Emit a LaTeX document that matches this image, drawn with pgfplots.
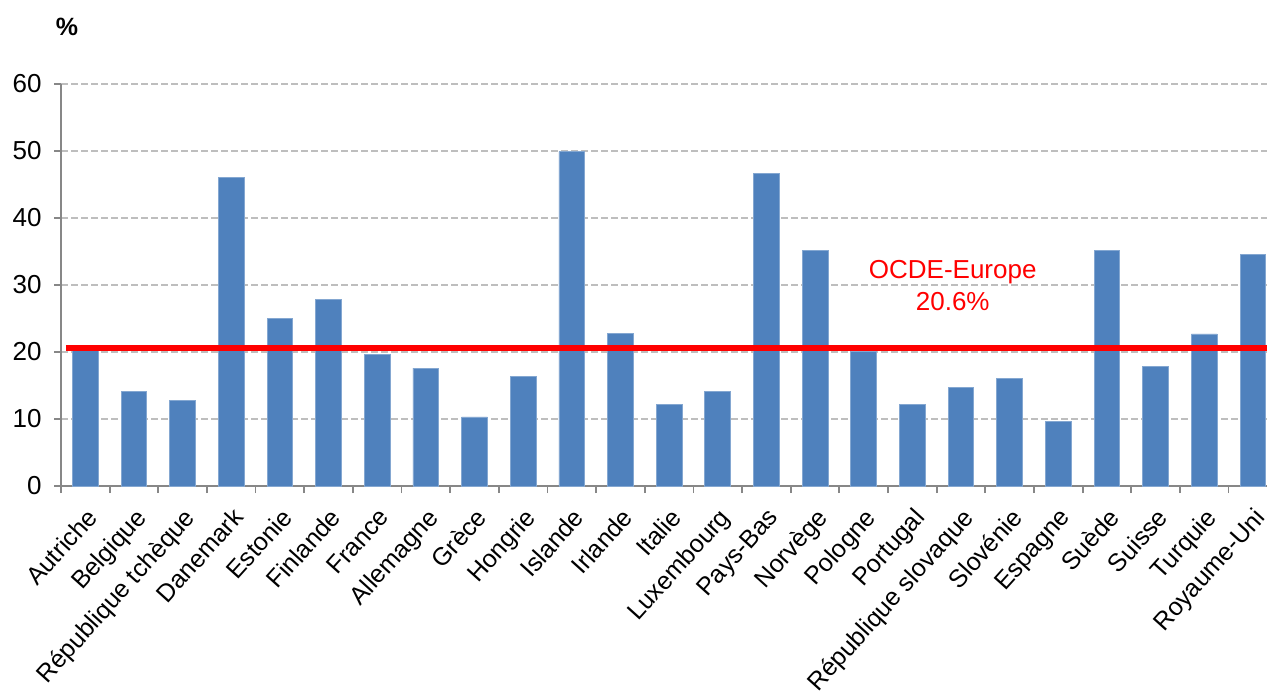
\documentclass[border=0pt]{standalone}
\usepackage{fontspec}
\setmainfont{Liberation Sans}
\usepackage{pgfplots}
\pgfplotsset{compat=1.18}
\definecolor{barblue}{HTML}{4F81BD}
\definecolor{axisgray}{HTML}{878787}
\definecolor{gridgray}{HTML}{BEBEBE}

\begin{document}
\begin{tikzpicture}
\begin{axis}[
  scale only axis,
  width=603pt, height=201pt,
  xmin=-0.5, xmax=24.29,
  ymin=0, ymax=60,
  clip=false,
  axis x line*=bottom,
  axis y line*=left,
  axis line style={axisgray, line width=0.9pt},
  tick align=outside,
  tick style={axisgray, line width=0.9pt},
  major tick length=3.5pt,
  minor tick length=3.5pt,
  xtick={0,...,24},
  major x tick style={draw=none},
  minor xtick={-0.5,0.5,...,23.5},
  xticklabels={Autriche, Belgique, République tchèque, Danemark, Estonie,
    Finlande, France, Allemagne, Grèce, Hongrie, Islande, Irlande, Italie,
    Luxembourg, Pays-Bas, Norvège, Pologne, Portugal, République slovaque,
    Slovénie, Espagne, Suède, Suisse, Turquie, Royaume-Uni},
  xticklabel style={yshift=-6.5pt, rotate=48, anchor=north east,
    inner sep=0pt, font=\fontsize{12.5}{15}\selectfont},
  ytick={0,10,...,60},
  yticklabel style={xshift=-6pt, anchor=east, inner sep=0pt,
    font=\fontsize{13}{15}\selectfont},
  /pgf/number format/assume math mode=true,
  ymajorgrids,
  grid style={gridgray, line width=0.65pt, dash pattern=on 3.5pt off 1.5pt},
]
% share of each country, per cent
\addplot[ybar, bar width=0.53, fill=barblue, draw=barblue!70!white,
  line width=0.4pt] coordinates {
  (0,20.5) (1,14.1) (2,12.8) (3,46.1) (4,25.0) (5,27.9) (6,19.7)
  (7,17.6) (8,10.3) (9,16.3) (10,49.9) (11,22.8) (12,12.2) (13,14.1)
  (14,46.7) (15,35.2) (16,20.1) (17,12.2) (18,14.7) (19,16.0) (20,9.7)
  (21,35.2) (22,17.9) (23,22.7) (24,34.5)
};
% OECD-Europe average
\addplot[red, line width=3.3pt] coordinates {(-0.4,20.6) (24.29,20.6)};
\node[red, align=center, font=\fontsize{13}{16}\selectfont]
  at (axis cs:17.83,29.85) {OCDE-Europe\\20.6\%};
\node[font=\fontsize{12.5}{15}\selectfont\bfseries]
  at (axis cs:-0.377,68.5) {\%};
\coordinate (bbSW) at (axis cs:-1.754,-30.9);
\coordinate (bbNE) at (axis cs:24.29,72.54);
\end{axis}
\pgfresetboundingbox
\path[use as bounding box] (bbSW) rectangle (bbNE);
\end{tikzpicture}
\end{document}
